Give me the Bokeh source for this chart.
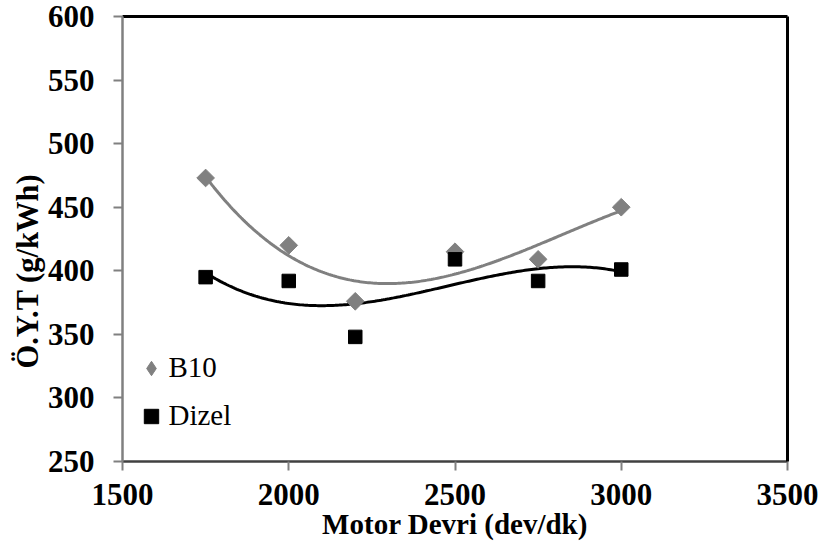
import numpy as np
from bokeh.plotting import figure
from bokeh.models import Range1d, LinearAxis, FixedTicker, Legend, LegendItem, Title
from bokeh.embed import file_html
from bokeh.resources import INLINE

# ---- data ----
rpm = [1750, 2000, 2200, 2500, 2750, 3000]
b10 = [473, 420, 376, 415, 409, 450]
dizel = [395, 392, 348, 409, 392, 401]
x_ticks = [1500, 2000, 2500, 3000, 3500]
y_ticks = [250, 300, 350, 400, 450, 500, 550, 600]
x_title = "Motor Devri (dev/dk)"
y_title = "Ö.Y.T (g/kWh)"
series_names = ["B10", "Dizel"]

FONT = "'Liberation Serif'"
GRAY = "#808080"

p = figure(frame_width=665, frame_height=445,
           x_range=Range1d(1500, 3500), y_range=Range1d(250, 600),
           output_backend="svg", toolbar_location=None,
           min_border_left=122, min_border_right=31,
           min_border_top=16, min_border_bottom=88)
p.outline_line_color = None
p.grid.visible = False
p.background_fill_color = "white"
p.border_fill_color = "white"

# trendlines (3rd order polynomial fits of the data)
xs = np.linspace(min(rpm), max(rpm), 200)
b10_fit = np.polyval(np.polyfit(rpm, b10, 3), xs)
diz_fit = np.polyval(np.polyfit(rpm, dizel, 3), xs)
p.line(xs, b10_fit, line_color=GRAY, line_width=3)
p.line(xs, diz_fit, line_color="black", line_width=3)

# small diamond (hidden under the rotated squares) that gives the legend its glyph
rb_leg = p.scatter(rpm, b10, marker="diamond", size=10,
                   fill_color=GRAY, line_color=GRAY)
rb = p.scatter(rpm, b10, marker="square", angle=np.pi / 4, size=12.5,
               fill_color=GRAY, line_color=GRAY)
rd = p.scatter(rpm, dizel, marker="square", size=13.5,
               fill_color="black", line_color="black")

# axes
xa = p.xaxis[0]
ya = p.yaxis[0]
xa.ticker = FixedTicker(ticks=x_ticks)
ya.ticker = FixedTicker(ticks=y_ticks)
for ax in (xa, ya):
    ax.major_label_text_font = FONT
    ax.major_label_text_font_style = "bold"
    ax.major_label_text_font_size = "31px"
    ax.major_label_text_color = "black"
    ax.axis_label_text_font = FONT
    ax.axis_label_text_font_style = "bold"
    ax.axis_label_text_color = "black"
    ax.major_tick_out = 9
    ax.major_tick_in = 0
    ax.minor_tick_out = 0
    ax.minor_tick_in = 0
    ax.major_tick_line_color = GRAY
    ax.major_tick_line_width = 2
xa.axis_label = x_title
xa.axis_label_text_font_size = "29px"
xa.axis_line_color = "#404040"
xa.axis_line_width = 2.5
ya.axis_line_color = GRAY
ya.axis_line_width = 2.5
xa.major_label_standoff = 13
xa.axis_label_standoff = 0
ya.major_label_standoff = 19

# y axis title (placed lower than the frame centre, as in the original)
ytitle = Title(text=y_title, align="left", offset=93, standoff=0,
               text_font=FONT, text_font_style="bold", text_font_size="30.5px",
               text_color="black")
p.add_layout(ytitle, "left")

# top and right frame lines
for place in ("above", "right"):
    ax = LinearAxis(ticker=FixedTicker(ticks=[]), major_tick_out=0, major_tick_in=0,
                    minor_tick_out=0, minor_tick_in=0, major_label_standoff=0,
                    axis_label_standoff=0, major_label_text_font_size="0px",
                    axis_line_color="black", axis_line_width=3)
    p.add_layout(ax, place)

legend = Legend(items=[LegendItem(label=series_names[0], renderers=[rb_leg]),
                       LegendItem(label=series_names[1], renderers=[rd])],
                location=(10.5, 25.5), padding=0, margin=0, spacing=8,
                glyph_width=36, glyph_height=40, label_standoff=-3,
                label_text_font=FONT, label_text_font_size="29px",
                label_text_color="black",
                border_line_color=None, background_fill_alpha=0)
p.add_layout(legend)

open("out.html", "w").write(file_html(p, INLINE))
